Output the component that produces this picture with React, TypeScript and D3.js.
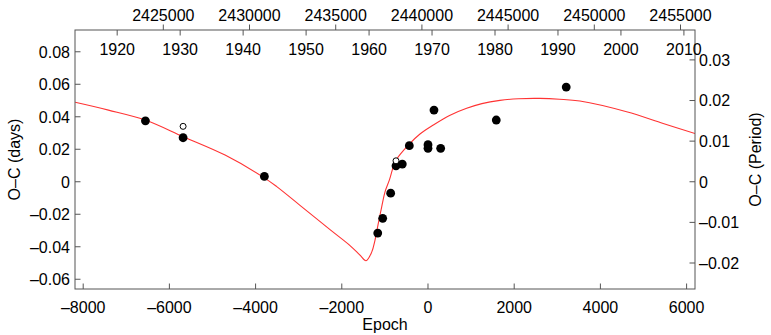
import React from 'react'
import * as d3 from 'd3'

// observed minima (epoch, O-C days)
const obsEpoch = [-6556, -5682, -3796, -1166, -1051, -866, -742, -596, -433, 0, 0, 139, 294, 1584, 3207]
const obsOC = [0.0375, 0.0271, 0.0033, -0.0316, -0.0225, -0.007, 0.0098, 0.0109, 0.0222, 0.0228, 0.0206, 0.0441, 0.0206, 0.038, 0.0583]
// open symbols
const openEpoch = [-5682, -742]
const openOC = [0.0341, 0.0129]

// fitted LTTE curve
const fitEpoch = [-8186, -7414, -6563, -5675, -4708, -3780, -3509, -2970, -2273, -1809, -1577, -1438, -1306, -1229, -1153, -1074, -997, -897, -742, -417, -186, 123, 500, 897, 1250, 1670, 2100, 2597, 3050, 3525, 4608, 5457, 6195]
const fitOC = [0.0489, 0.0441, 0.038, 0.0277, 0.0164, 0.0021, -0.003, -0.0145, -0.0295, -0.0393, -0.0452, -0.0486, -0.0433, -0.0359, -0.0256, -0.0154, -0.0062, 0.001, 0.0132, 0.0236, 0.0294, 0.0349, 0.0408, 0.0452, 0.0481, 0.0501, 0.0511, 0.0513, 0.0508, 0.0497, 0.0431, 0.0359, 0.0297]

const epochTicks = [-8000, -6000, -4000, -2000, 0, 2000, 4000, 6000]
const daysTicks = [-0.06, -0.04, -0.02, 0, 0.02, 0.04, 0.06, 0.08]
const periodTicks = [-0.02, -0.01, 0, 0.01, 0.02, 0.03]
const jdTicks = [2425000, 2430000, 2435000, 2440000, 2445000, 2450000, 2455000]
const yearTicks = [1920, 1930, 1940, 1950, 1960, 1970, 1980, 1990, 2000, 2010]

const P = 2.5
const T0 = 2440353

const W = 771
const H = 335
const m = { left: 75, right: 76, top: 30, bottom: 46 }
const font = '"Liberation Sans", Arial, Helvetica, sans-serif'
const axisColor = '#555'

const fmt = (v: number) => {
  if (Math.abs(v) < 1e-9) return '0'
  const s = String(+v.toFixed(4))
  return s.startsWith('-') ? '\u2013' + s.slice(1) : s
}

export default function App() {
  const x = d3.scaleLinear().domain([-8190, 6195]).range([m.left, W - m.right])
  const y = d3.scaleLinear().domain([-0.066, 0.0934]).range([H - m.bottom, m.top])
  const yP = d3.scaleLinear().domain(y.domain().map(d => d / P)).range(y.range())
  const xJD = d3.scaleLinear().domain(x.domain().map(e => T0 + P * e)).range(x.range())
  const toYear = (jd: number) => 2000 + (jd - 2451545) / 365.25
  const xYear = d3.scaleLinear().domain(xJD.domain().map(toYear)).range(x.range())

  const line = d3.line<number>()
    .x((_, i) => x(fitEpoch[i]))
    .y(d => y(d))
    .curve(d3.curveCatmullRom.alpha(0.5))

  const [x0, x1] = x.range()
  const [y0, y1] = y.range()
  const tk = 5.5

  return (
    <svg width={W} height={H} viewBox={`0 0 ${W} ${H}`}
      style={{ position: 'absolute', left: 0, top: 0, background: '#fff' }}
      fontFamily={font} fontSize={16}>
      <defs>
        <clipPath id="plot">
          <rect x={x0} y={y1} width={x1 - x0} height={y0 - y1} />
        </clipPath>
      </defs>

      {/* fit */}
      <path d={line(fitOC) || ''} fill="none" stroke="#ff3333" strokeWidth={1.1} clipPath="url(#plot)" />

      {/* points */}
      {obsEpoch.map((e, i) => (
        <circle key={'o' + i} cx={x(e)} cy={y(obsOC[i])} r={4.4} fill="#000" />
      ))}
      {openEpoch.map((e, i) => (
        <circle key={'p' + i} cx={x(e)} cy={y(openOC[i])} r={3} fill="#fff" stroke="#000" strokeWidth={1} />
      ))}

      {/* frame */}
      <rect x={x0} y={y1} width={x1 - x0} height={y0 - y1} fill="none" stroke={axisColor} strokeWidth={1} />

      {/* bottom axis */}
      {epochTicks.map(t => (
        <g key={'b' + t}>
          <line x1={x(t)} x2={x(t)} y1={y0} y2={y0 - tk} stroke={axisColor} />
          <text x={x(t)} y={y0 + 24} textAnchor="middle">{fmt(t)}</text>
        </g>
      ))}
      <text x={(x0 + x1) / 2} y={329.5} textAnchor="middle">Epoch</text>

      {/* left axis */}
      {daysTicks.map(t => (
        <g key={'l' + t}>
          <line x1={x0} x2={x0 + tk} y1={y(t)} y2={y(t)} stroke={axisColor} />
          <text x={x0 - 5} y={y(t)} dy="0.36em" textAnchor="end">{fmt(t)}</text>
        </g>
      ))}
      <text transform={`translate(20,${(y0 + y1) / 2}) rotate(-90)`} textAnchor="middle">O–C (days)</text>

      {/* right axis */}
      {periodTicks.map(t => (
        <g key={'r' + t}>
          <line x1={x1} x2={x1 - tk} y1={yP(t)} y2={yP(t)} stroke={axisColor} />
          <text x={x1 + 4} y={yP(t)} dy="0.36em" textAnchor="start">{fmt(t)}</text>
        </g>
      ))}
      <text transform={`translate(761,${(y0 + y1) / 2}) rotate(-90)`} textAnchor="middle">O–C (Period)</text>

      {/* top: JD outside, years inside */}
      {jdTicks.map(t => (
        <g key={'j' + t}>
          <line x1={xJD(t)} x2={xJD(t)} y1={y1} y2={y1 - tk} stroke={axisColor} />
          <text x={xJD(t)} y={20.5} textAnchor="middle">{t}</text>
        </g>
      ))}
      {yearTicks.map(t => (
        <g key={'y' + t}>
          <line x1={xYear(t)} x2={xYear(t)} y1={y1} y2={y1 + tk} stroke={axisColor} />
          <text x={xYear(t)} y={55} textAnchor="middle">{t}</text>
        </g>
      ))}
    </svg>
  )
}
